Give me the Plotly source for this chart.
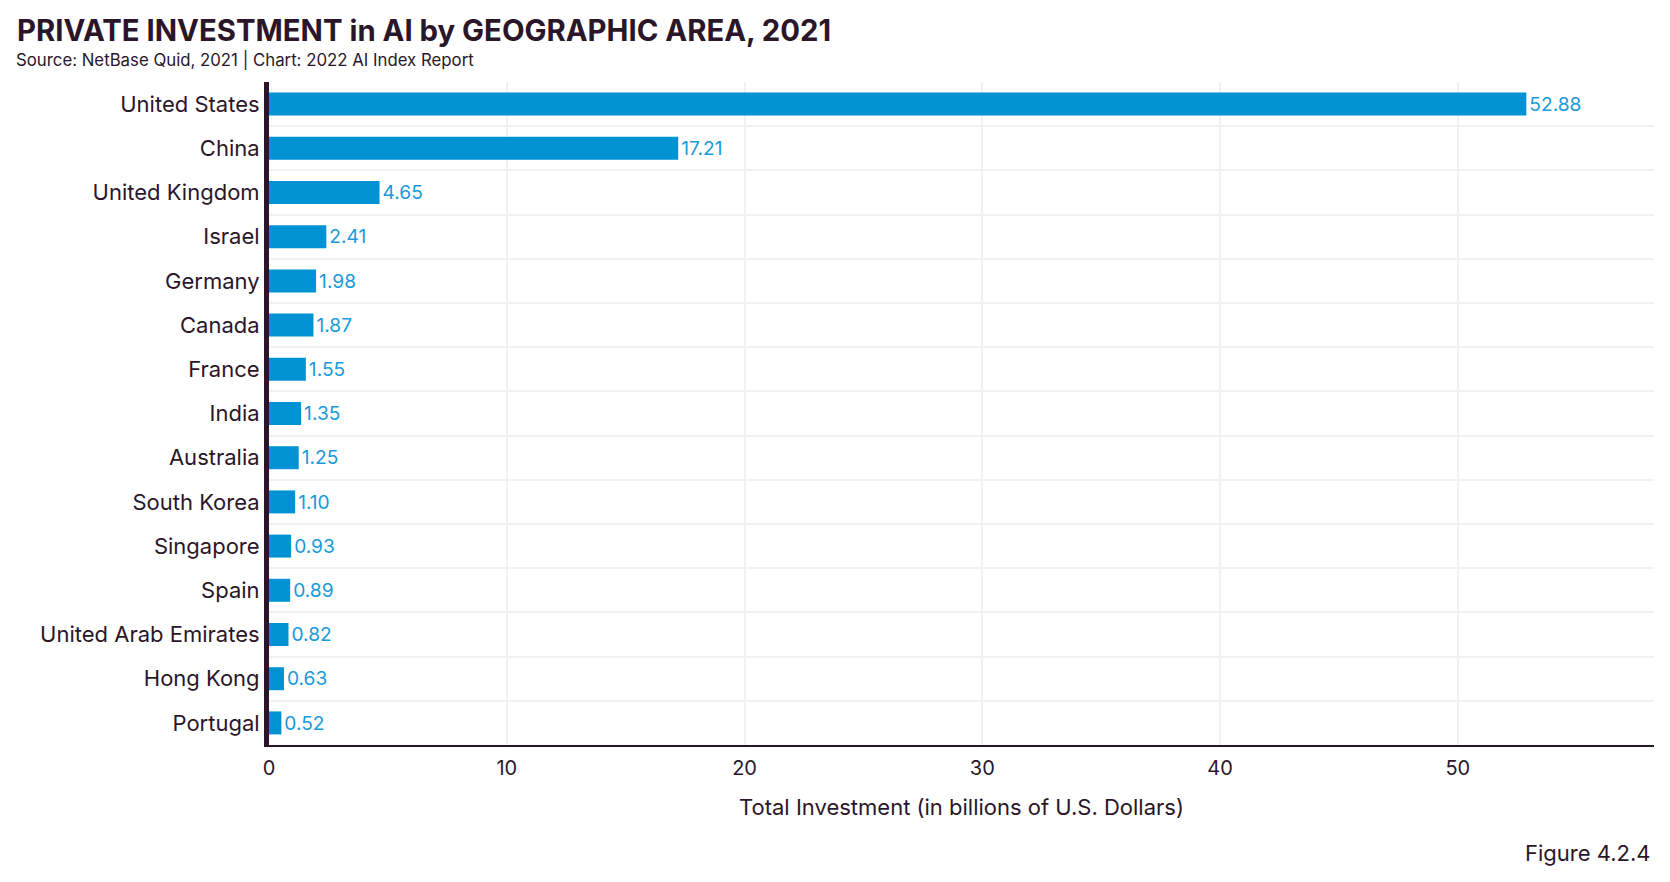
import plotly.graph_objects as go

countries = ["United States", "China", "United Kingdom", "Israel", "Germany", "Canada",
             "France", "India", "Australia", "South Korea", "Singapore", "Spain",
             "United Arab Emirates", "Hong Kong", "Portugal"]
investment = [52.88, 17.21, 4.65, 2.41, 1.98, 1.87, 1.55, 1.35, 1.25, 1.10, 0.93, 0.89,
              0.82, 0.63, 0.52]
labels = [f"{v:.2f}" for v in investment]

DARK = "#2b1629"
BLUE = "#0092d3"
LABEL_BLUE = "#1a9ad8"
GRID = "#f1f1f1"
FONT = "Inter"

W, H = 1670, 882
L, R, T, B = 261, 24, 74, 145

fig = go.Figure(go.Bar(
    x=investment, y=countries, orientation="h",
    marker=dict(color=BLUE, line=dict(width=0)),
    width=0.52,
    text=labels, textposition="outside", cliponaxis=False,
    textfont=dict(color=LABEL_BLUE, size=20, family=FONT),
))

fig.update_layout(
    width=W, height=H, autosize=False,
    margin=dict(l=L, r=R, t=T, b=B),
    paper_bgcolor="white", plot_bgcolor="white",
    font=dict(family=FONT, color=DARK),
    showlegend=False,
    title=dict(text="<b>PRIVATE INVESTMENT in AI by GEOGRAPHIC AREA, 2021</b>",
               xref="container", yref="container", x=9 / W, xanchor="left",
               y=1 - 22.5 / H, yanchor="middle",
               font=dict(size=29.3, color=DARK, family=FONT)),
)

fig.update_xaxes(
    range=[0, 58.25], tickvals=[0, 10, 20, 30, 40, 50],
    showgrid=True, gridcolor=GRID, gridwidth=2,
    showline=True, linecolor=DARK, linewidth=2,
    zeroline=False, ticks="outside", ticklen=4, tickcolor="rgba(0,0,0,0)",
    tickfont=dict(size=20, color=DARK, family=FONT),
    title=dict(text="Total Investment (in billions of U.S. Dollars)",
               font=dict(size=22, color=DARK, family=FONT), standoff=21),
)

fig.update_yaxes(
    type="category", autorange="reversed",
    tickson="boundaries", showgrid=True, gridcolor=GRID, gridwidth=2,
    showline=True, linecolor=DARK, linewidth=5,
    ticks="outside", ticklen=3, tickcolor="rgba(0,0,0,0)",
    tickfont=dict(size=22, color=DARK, family=FONT),
)

fig.add_annotation(
    text="Source: NetBase Quid, 2021 | Chart: 2022 AI Index Report",
    xref="paper", yref="paper",
    x=(6 - L) / (W - L - R), xanchor="left",
    y=(H - B - 51.5) / (H - B - T), yanchor="middle",
    showarrow=False, font=dict(size=16.8, color=DARK, family=FONT),
)
fig.add_annotation(
    text="Figure 4.2.4",
    xref="paper", yref="paper",
    x=(1645 - L) / (W - L - R), xanchor="right",
    y=(H - B - 845) / (H - B - T), yanchor="middle",
    showarrow=False, font=dict(size=22, color=DARK, family=FONT),
)

fig.write_html("out.html")
